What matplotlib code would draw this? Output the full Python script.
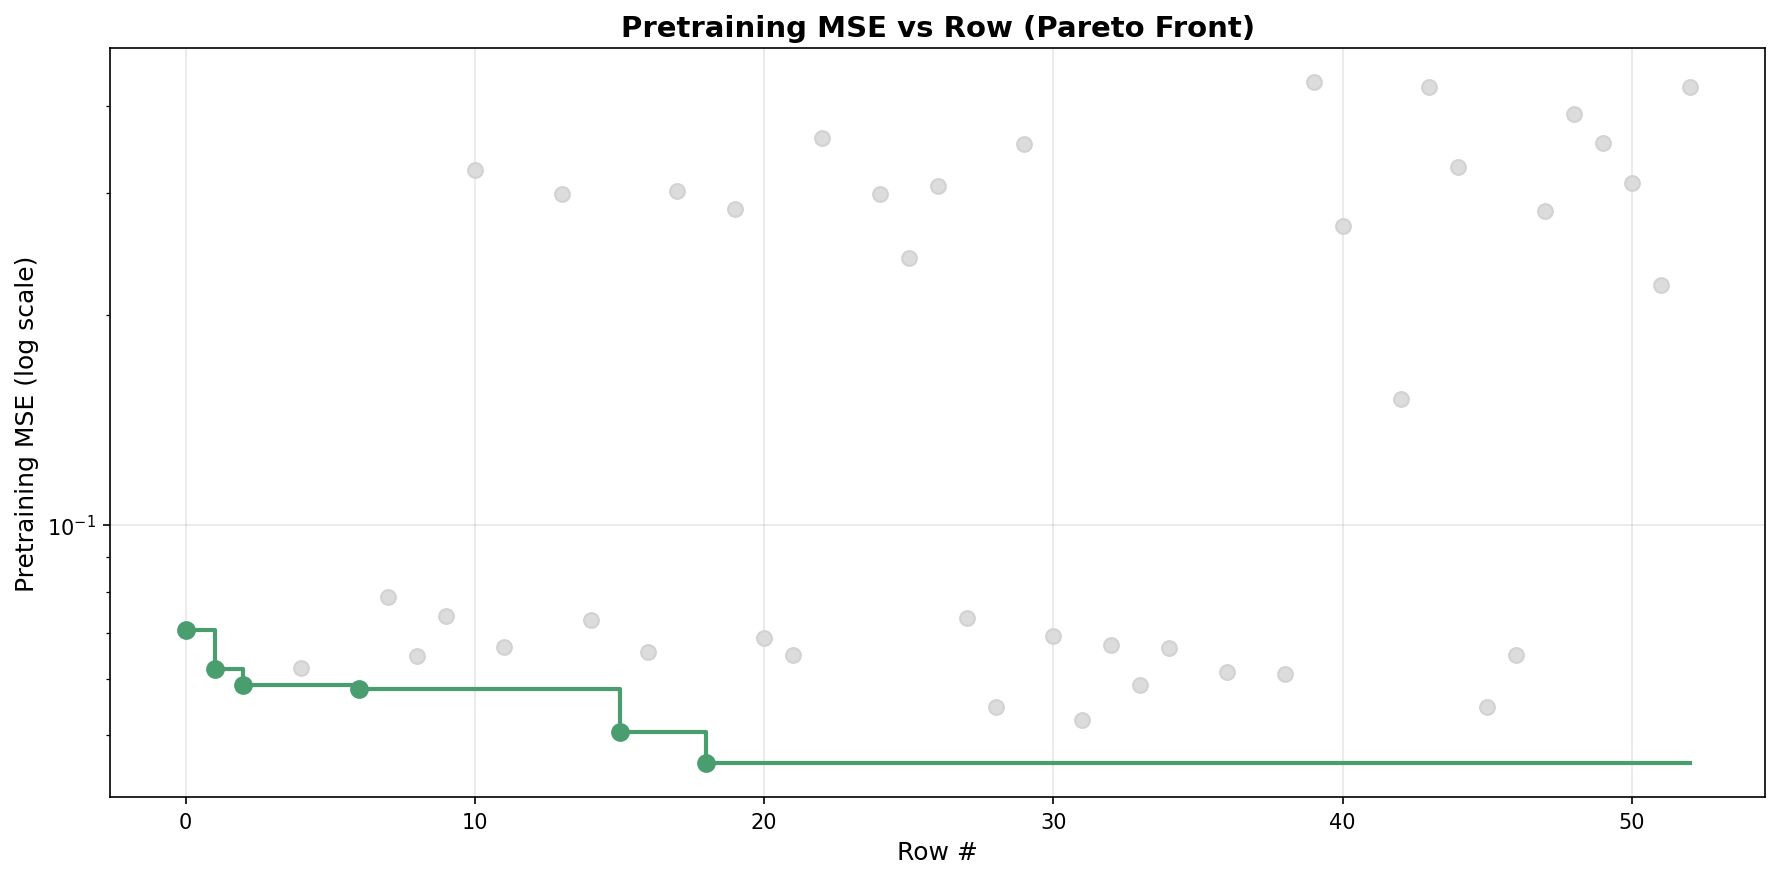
import numpy as np
import matplotlib
matplotlib.use("Agg")
import matplotlib.pyplot as plt

nan = np.nan
rows = list(range(53))
mse = [0.0707, 0.0622, 0.0590, nan, 0.0624, nan, 0.0581, 0.0788, 0.0648, 0.0739,
       0.3235, 0.0668, nan, 0.299, 0.0731, 0.0504, 0.0658, 0.302, 0.0455, 0.2846,
       0.0688, 0.0650, 0.359, nan, 0.299, 0.242, 0.307, 0.0734, 0.0547, 0.3527,
       0.0693, 0.0525, 0.0673, 0.0590, 0.0665, nan, 0.0615, nan, 0.0610, 0.432,
       0.269, nan, 0.1514, 0.4255, 0.327, 0.0547, 0.0650, 0.2825, 0.389, 0.354,
       0.310, 0.2213, 0.4255]

rows = np.array(rows)
mse = np.array(mse)
ok = ~np.isnan(mse)

# pareto front: rows that set a new running minimum
front_x, front_y = [], []
best = np.inf
for r, v in zip(rows[ok], mse[ok]):
    if v < best:
        best = v
        front_x.append(r)
        front_y.append(v)
others = ~np.isin(rows, front_x) & ok

green = "#4a9d6e"

fig, ax = plt.subplots(figsize=(1781/150, 880/150), dpi=150)
ax.scatter(rows[others], mse[others], s=50, color="#dcdcdc", edgecolors="#d2d2d2",
           linewidths=1, zorder=2)
ax.step(front_x + [rows[ok][-1]], front_y + [front_y[-1]], where="post",
        color=green, lw=2, zorder=3)
ax.scatter(front_x, front_y, s=64, color=green, zorder=4)

ax.set_yscale("log")
ax.set_xlabel("Row #", fontsize=12)
ax.set_ylabel("Pretraining MSE (log scale)", fontsize=12)
ax.set_title("Pretraining MSE vs Row (Pareto Front)", fontsize=14, fontweight="bold")
ax.grid(True, alpha=0.3)

fig.subplots_adjust(left=0.062, right=0.991, top=0.944, bottom=0.093)
plt.savefig("out.png", dpi=150)
